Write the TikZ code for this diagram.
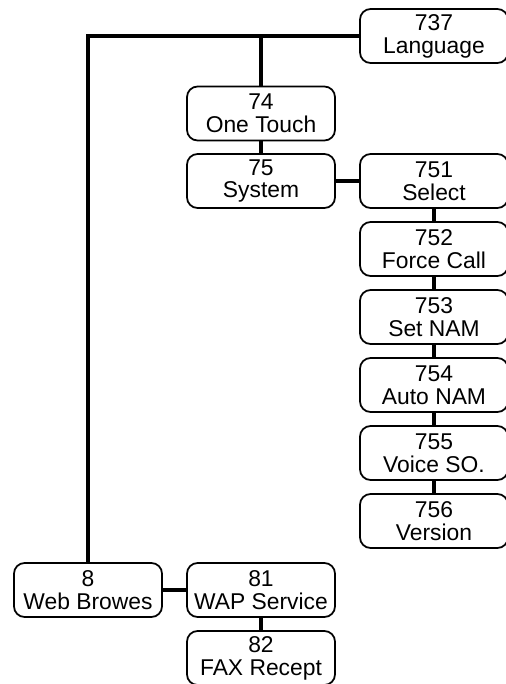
\documentclass[tikz,border=0pt]{standalone}
\usepackage{fontspec}
\setmainfont{Liberation Sans}
\begin{document}
\begin{tikzpicture}[x=0.02cm,y=-0.02cm,
  menubox/.style={draw,rounded corners=6pt,minimum width=2.96cm,minimum height=1.08cm,
    align=center,font=\fontsize{13}{13}\selectfont,inner sep=0pt,line width=1pt,fill=white},
  menulink/.style={line width=2pt}
]
  \useasboundingbox (0,0) rectangle (505,684);
  % Menu 7
  \node[menubox] (n737) at (434,36) {737\\Language};
  \node[menubox] (n74) at (261,113.5) {74\\One Touch};
  \node[menubox] (n75) at (261,181) {75\\System};
  % Menu 75 sub items
  \node[menubox] (n751) at (434,181) {751\\Select};
  \node[menubox] (n752) at (434,249) {752\\Force Call};
  \node[menubox] (n753) at (434,317) {753\\Set NAM};
  \node[menubox] (n754) at (434,385) {754\\Auto NAM};
  \node[menubox] (n755) at (434,453) {755\\Voice SO.};
  \node[menubox] (n756) at (434,521) {756\\Version};
  % Menu 8
  \node[menubox] (n8) at (88,590) {8\\Web Browes};
  \node[menubox] (n81) at (261,590) {81\\WAP Service};
  \node[menubox] (n82) at (261,658) {82\\FAX Recept};
  % Links
  \draw[menulink] (n737.west) -| (n8.north);
  \draw[menulink] (n74.north) |- (n737.west);
  \draw[menulink] (n74.south) -- (n75.north);
  \draw[menulink] (n75.east) -- (n751.west);
  \draw[menulink] (n751.south) -- (n752.north);
  \draw[menulink] (n752.south) -- (n753.north);
  \draw[menulink] (n753.south) -- (n754.north);
  \draw[menulink] (n754.south) -- (n755.north);
  \draw[menulink] (n755.south) -- (n756.north);
  \draw[menulink] (n8.east) -- (n81.west);
  \draw[menulink] (n81.south) -- (n82.north);
\end{tikzpicture}
\end{document}
